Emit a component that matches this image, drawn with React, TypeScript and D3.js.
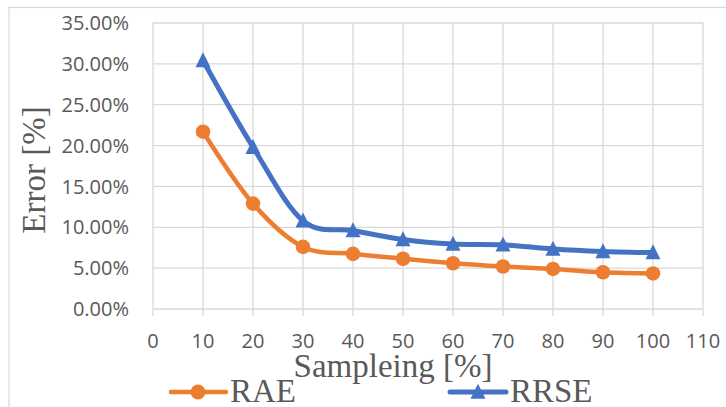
import React from "react";
import * as d3 from "d3";

const sampling = [10, 20, 30, 40, 50, 60, 70, 80, 90, 100];
const raeValues = [21.7, 12.9, 7.6, 6.75, 6.15, 5.6, 5.2, 4.9, 4.5, 4.35];
const rrseValues = [30.4, 19.8, 10.8, 9.6, 8.5, 7.95, 7.85, 7.35, 7.05, 6.9];
const xTicks = [0, 10, 20, 30, 40, 50, 60, 70, 80, 90, 100, 110];
const yTicks = [0, 5, 10, 15, 20, 25, 30, 35];
const seriesNames = ["RAE", "RRSE"];

const W = 726;
const H = 407;
const ORANGE = "#ED7D31";
const BLUE = "#4472C4";
const GRID = "#D9D9D9";
const TEXT = "#595959";

export default function App() {
  const x = d3.scaleLinear().domain([0, 110]).range([153, 703]);
  const y = d3.scaleLinear().domain([0, 35]).range([309, 23]);
  const line = d3
    .line<number>()
    .x((_, i) => x(sampling[i]))
    .y((d) => y(d))
    .curve(d3.curveCardinal.tension(0));

  const tri = (cx: number, cy: number, s: number) =>
    `M${cx},${cy - s * 0.55} L${cx + s / 2},${cy + s * 0.45} L${cx - s / 2},${cy + s * 0.45} Z`;

  return (
    <svg
      width={W}
      height={H}
      style={{ position: "absolute", left: 0, top: 0, display: "block", background: "#fff" }}
    >
      <rect x={9} y={7.5} width={800} height={500} fill="#fff" stroke={GRID} strokeWidth={1.2} />
      {/* grid */}
      {yTicks.map((t) => (
        <line key={"gy" + t} x1={x(0)} x2={x(110)} y1={y(t)} y2={y(t)} stroke={GRID} strokeWidth={1.3} />
      ))}
      {xTicks.map((t) => (
        <line key={"gx" + t} x1={x(t)} x2={x(t)} y1={y(35)} y2={y(0) + 7} stroke={GRID} strokeWidth={1.3} />
      ))}
      {/* y labels */}
      {yTicks.map((t) => (
        <text
          key={"ly" + t}
          x={129}
          y={y(t)}
          dy="0.36em"
          textAnchor="end"
          fontFamily="'Open Sans', sans-serif"
          fontSize={20}
          fill={TEXT}
        >
          {t.toFixed(2) + "%"}
        </text>
      ))}
      {/* x labels */}
      {xTicks.map((t) => (
        <text
          key={"lx" + t}
          x={x(t)}
          y={348}
          textAnchor="middle"
          fontFamily="'Open Sans', sans-serif"
          fontSize={20}
          fill={TEXT}
        >
          {t}
        </text>
      ))}
      {/* series */}
      <path d={line(raeValues) || ""} fill="none" stroke={ORANGE} strokeWidth={4.5} strokeLinejoin="round" />
      <path d={line(rrseValues) || ""} fill="none" stroke={BLUE} strokeWidth={5} strokeLinejoin="round" />
      {raeValues.map((v, i) => (
        <circle key={"c" + i} cx={x(sampling[i])} cy={y(v)} r={7.3} fill={ORANGE} />
      ))}
      {rrseValues.map((v, i) => (
        <path key={"t" + i} d={tri(x(sampling[i]), y(v), 15)} fill={BLUE} />
      ))}
      {/* axis titles */}
      <text
        transform="translate(45,170) rotate(-90)"
        textAnchor="middle"
        fontFamily="'Liberation Serif', serif"
        fontSize={33}
        fill={TEXT}
      >
        Error [%]
      </text>
      <text
        x={393}
        y={377}
        textAnchor="middle"
        fontFamily="'Liberation Serif', serif"
        fontSize={33}
        fill={TEXT}
      >
        Sampleing [%]
      </text>
      {/* legend */}
      <line x1={171} x2={226} y1={392} y2={392} stroke={ORANGE} strokeWidth={4.5} strokeLinecap="round" />
      <circle cx={198} cy={392} r={7.5} fill={ORANGE} />
      <text x={230} y={402} fontFamily="'Liberation Serif', serif" fontSize={33} fill={TEXT}>
        {seriesNames[0]}
      </text>
      <line x1={450} x2={506} y1={392} y2={392} stroke={BLUE} strokeWidth={5} strokeLinecap="round" />
      <path d={tri(478, 392, 15)} fill={BLUE} />
      <text x={510} y={402} fontFamily="'Liberation Serif', serif" fontSize={33} fill={TEXT}>
        {seriesNames[1]}
      </text>
    </svg>
  );
}
